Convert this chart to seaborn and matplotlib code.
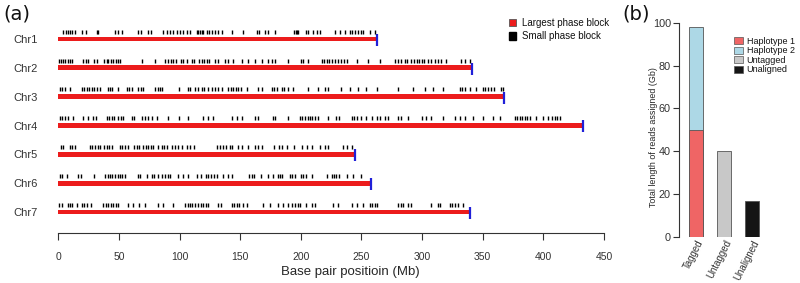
import numpy as np
import pandas as pd
import matplotlib
matplotlib.use("Agg")
import matplotlib.pyplot as plt
import seaborn as sns
from matplotlib.patches import Patch

# ---- data -------------------------------------------------------------
chromosomes = ["Chr1", "Chr2", "Chr3", "Chr4", "Chr5", "Chr6", "Chr7"]
largest_block_mb = [262.4, 341.5, 367.3, 432.7, 245.0, 257.5, 339.3]

small_blocks_mb = {
    "Chr1": [4.2, 6.1, 7.7, 9.4, 11.6, 13.8, 19.3, 22.6, 31.6, 33.0, 46.7, 49.5, 52.2,
             66.0, 68.2, 74.2, 76.4, 86.6, 89.3, 92.0, 94.8, 97.6, 100.3, 103.0, 105.8,
             108.5, 114.0, 115.5, 117.0, 118.5, 119.5, 122.3, 124.2, 126.4, 129.2, 131.9,
             134.6, 142.9, 152.5, 163.5, 165.4, 170.4, 173.1, 178.6, 194.5, 195.6, 196.7,
             197.8, 203.9, 206.1, 210.2, 213.0, 215.7, 228.0, 232.2, 236.3, 240.4, 242.3,
             244.5, 247.3, 249.5, 251.4, 256.9, 261.0],
    "Chr2": [0.6, 2.2, 4.2, 5.5, 7.7, 9.6, 11.6, 20.6, 22.6, 24.8, 29.7, 31.6, 37.9, 39.9,
             41.2, 43.4, 45.4, 47.3, 49.5, 51.1, 69.3, 79.7, 87.9, 90.1, 92.9, 94.8, 96.7,
             101.1, 103.0, 105.8, 109.9, 112.1, 116.0, 118.2, 120.1, 122.3, 124.2, 129.2,
             131.9, 137.4, 139.6, 144.3, 151.1, 156.1, 162.1, 167.6, 173.1, 175.9, 178.6,
             189.6, 200.0, 202.0, 206.1, 217.1, 219.3, 221.2, 223.1, 225.3, 228.0, 230.8,
             233.5, 235.7, 237.7, 245.9, 255.5, 265.1, 277.5, 280.2, 283.0, 285.7, 287.9,
             291.2, 293.4, 295.4, 297.3, 299.5, 301.7, 305.0, 307.7, 310.5, 313.2, 315.4,
             320.1, 332.4, 335.2, 339.3],
    "Chr3": [1.4, 3.3, 5.5, 9.6, 19.3, 21.5, 23.4, 25.3, 27.5, 29.7, 31.6, 34.4, 41.2, 42.6,
             44.0, 49.5, 56.3, 58.3, 60.5, 66.0, 68.2, 70.1, 79.7, 81.9, 83.8, 85.7, 99.5,
             106.6, 108.5, 112.7, 114.9, 118.2, 120.4, 123.7, 126.4, 129.2, 131.9, 134.6,
             140.1, 142.3, 144.3, 146.2, 148.4, 150.6, 155.2, 164.9, 167.6, 175.9, 178.1,
             180.0, 184.1, 186.3, 189.6, 193.7, 206.1, 214.3, 219.8, 222.0, 233.5, 240.4,
             247.3, 254.1, 262.4, 280.2, 292.6, 302.2, 309.1, 317.3, 331.1, 333.0, 335.2,
             339.3, 344.8, 350.3, 352.2, 354.4, 357.2, 359.4, 365.4, 366.8],
    "Chr4": [1.4, 3.3, 5.5, 7.7, 12.4, 20.6, 24.8, 28.9, 30.8, 39.9, 41.8, 44.0, 46.2, 49.5,
             51.7, 53.6, 60.5, 62.7, 69.3, 71.5, 73.7, 77.5, 81.1, 90.7, 99.5, 107.2, 119.5,
             123.7, 127.8, 142.9, 147.0, 151.1, 162.1, 164.3, 177.2, 178.6, 189.6, 199.2,
             201.1, 203.3, 205.5, 207.4, 209.4, 211.6, 214.3, 222.0, 229.4, 231.3, 242.3,
             244.0, 245.9, 250.0, 254.1, 258.3, 262.4, 265.1, 269.3, 272.0, 280.2, 282.4,
             288.5, 299.5, 303.6, 307.7, 317.3, 327.0, 331.1, 335.2, 342.1, 350.3, 358.6,
             364.0, 376.4, 378.6, 380.5, 382.4, 384.6, 386.8, 388.8, 394.3, 399.7, 403.9,
             407.2, 409.4, 411.6, 413.5],
    "Chr5": [2.2, 4.2, 9.6, 11.6, 13.8, 26.1, 28.0, 30.3, 32.4, 34.4, 37.9, 39.9, 41.8, 44.0,
             50.9, 52.8, 55.0, 57.2, 62.7, 64.6, 66.5, 70.1, 72.0, 74.2, 76.4, 78.3, 81.9,
             85.2, 87.4, 89.3, 94.0, 96.2, 98.4, 101.7, 105.8, 108.5, 112.1, 130.5, 133.3,
             136.0, 137.9, 141.5, 143.4, 147.8, 151.7, 156.6, 162.1, 164.3, 168.2, 178.1,
             181.9, 184.1, 188.2, 194.5, 200.6, 204.7, 208.8, 215.7, 219.8, 222.6, 234.9,
             237.7, 241.8],
    "Chr6": [1.4, 3.3, 6.9, 16.5, 18.7, 29.7, 38.5, 40.7, 42.6, 44.5, 46.7, 48.9, 50.9, 52.8,
             55.0, 65.4, 67.3, 72.8, 77.0, 79.1, 82.4, 85.7, 87.9, 90.1, 92.1, 98.9, 103.0,
             107.2, 114.0, 117.6, 121.5, 123.7, 125.9, 128.6, 130.5, 136.0, 140.1, 142.9,
             157.2, 159.4, 161.6, 167.1, 172.6, 177.2, 180.8, 182.7, 184.6, 191.0, 192.9,
             195.1, 200.0, 202.0, 203.9, 208.8, 221.2, 225.3, 227.5, 229.4, 231.3, 237.7,
             243.2, 249.5],
    "Chr7": [0.6, 3.3, 7.7, 9.6, 11.6, 15.1, 19.3, 21.5, 23.4, 27.0, 37.1, 39.1, 41.2, 43.4,
             45.4, 47.3, 49.5, 57.7, 61.8, 66.5, 71.5, 82.4, 86.6, 94.8, 104.4, 106.6, 108.5,
             110.5, 112.7, 114.9, 117.6, 119.5, 121.5, 123.7, 131.3, 134.1, 142.9, 145.1,
             147.0, 148.9, 152.5, 155.2, 169.0, 174.5, 180.8, 185.5, 189.6, 192.9, 195.1,
             197.3, 199.2, 203.9, 208.8, 211.6, 226.7, 230.8, 241.8, 245.9, 251.4, 256.9,
             258.8, 261.0, 263.2, 280.2, 282.4, 284.4, 288.5, 291.2, 307.7, 313.2, 314.6,
             322.8, 324.8, 327.0, 329.2, 333.8],
}

read_groups = ["Tagged", "Untagged", "Unaligned"]
haplotype1_gb = 50
haplotype2_gb = 48
untagged_gb = 40
unaligned_gb = 17

# ---- style -------------------------------------------------------------
sns.set_theme(style="white")
plt.rcParams.update({
    "font.family": ["Liberation Sans", "DejaVu Sans"],
    "axes.edgecolor": "#333333",
    "axes.linewidth": 0.8,
    "xtick.color": "#333333",
    "ytick.color": "#333333",
    "text.color": "#111111",
})

RED = "#ec1c1c"
BLUE = "#2020d8"
HAP1 = "#ef6565"
HAP2 = "#add8e6"
GREY = "#c8c8c8"
BLACK = "#151515"

fig = plt.figure(figsize=(8.0, 2.83), dpi=100)

# ---- panel (a) ---------------------------------------------------------
ax = fig.add_axes([0.0729, 0.2152, 0.6821, 0.7386])

sns.barplot(x=largest_block_mb, y=chromosomes, orient="h", color=RED,
            width=0.165, linewidth=0, saturation=1, ax=ax)

ends = pd.DataFrame({"pos": largest_block_mb, "row": np.arange(len(chromosomes)) + 0.03})
sns.scatterplot(data=ends, x="pos", y="row", marker="|", color=BLUE, s=70,
                linewidth=1.6, ax=ax, legend=False)

rows = []
for i, ch in enumerate(chromosomes):
    for p in small_blocks_mb[ch]:
        rows.append({"pos": p, "row": i - 0.25})
small = pd.DataFrame(rows)
sns.scatterplot(data=small, x="pos", y="row", marker="|", color="black", s=10,
                linewidth=1.0, ax=ax, legend=False)

ax.set_xlim(0, 450)
ax.set_ylim(6.35, -0.9)
ax.set_xticks(np.arange(0, 451, 50))
ax.tick_params(axis="x", labelsize=7.5, length=5, width=0.8, direction="out",
               bottom=True, pad=9)
ax.tick_params(axis="y", labelsize=8, length=0, pad=15)
for s in ["top", "right", "left"]:
    ax.spines[s].set_visible(False)
ax.spines["bottom"].set_position(("outward", 7.7))
ax.spines["bottom"].set_bounds(0, 450)
ax.set_ylabel("")
ax.set_xlabel("Base pair positioin (Mb)", fontsize=9.5, va="center")
ax.xaxis.set_label_coords((350 - 58.3) / 545.7, -(271.7 - 222.1) / 209)

fig.legend(handles=[Patch(facecolor=RED, edgecolor="#555555", linewidth=0.6),
                    Patch(facecolor="black", edgecolor="black")],
           labels=["Largest phase block", "Small phase block"],
           loc="upper left", bbox_to_anchor=(509 / 800, 1 - 18 / 283),
           frameon=False, fontsize=7, handlelength=0.75, handleheight=0.75,
           handletextpad=0.6, labelspacing=0.35, borderpad=0, borderaxespad=0)

fig.text(3 / 800, 1 - 14 / 283, "(a)", fontsize=14, family="DejaVu Sans", va="center")

# ---- panel (b) ---------------------------------------------------------
bx = fig.add_axes([679.3 / 800, 1 - 237 / 283, 89.8 / 800, 220.7 / 283])

totals = [haplotype1_gb + haplotype2_gb, untagged_gb, unaligned_gb]
sns.barplot(x=read_groups, y=totals, hue=read_groups, order=read_groups,
            palette=[HAP2, GREY, BLACK], width=0.5, saturation=1,
            edgecolor="#555555", linewidth=0.6, legend=False, ax=bx)
sns.barplot(x=read_groups[:1], y=[haplotype1_gb], order=read_groups, color=HAP1,
            width=0.5, saturation=1, edgecolor="#555555", linewidth=0.6, ax=bx)

bx.set_xlim(-0.607, 2.6)
bx.set_ylim(0, 103)
bx.set_yticks(np.arange(0, 101, 20))
bx.tick_params(axis="y", labelsize=7.8, length=4, width=0.8, left=True, pad=2)
bx.tick_params(axis="x", labelsize=7, length=0, pad=1)
for lbl in bx.get_xticklabels():
    lbl.set_rotation(63)
    lbl.set_ha("right")
    lbl.set_rotation_mode("anchor")
for s in ["top", "right", "bottom"]:
    bx.spines[s].set_visible(False)
bx.spines["left"].set_bounds(0, 100)
bx.set_ylabel("Total length of reads assigned (Gb)", fontsize=6.4, va="center")
bx.yaxis.set_label_coords((653 - 679.3) / 89.8, (237 - 137) / 220.7)
bx.set_xlabel("")

bx.legend(handles=[Patch(facecolor=c, edgecolor="#555555", linewidth=0.5)
                   for c in [HAP1, HAP2, GREY, BLACK]],
          labels=["Haplotype 1", "Haplotype 2", "Untagged", "Unaligned"],
          loc="upper left", bbox_to_anchor=(734 / 800, 1 - 37 / 283),
          bbox_transform=fig.transFigure, frameon=False, fontsize=6.5,
          handlelength=1.0, handleheight=0.8, handletextpad=0.4,
          labelspacing=0.05, borderpad=0, borderaxespad=0)

fig.text(622 / 800, 1 - 14 / 283, "(b)", fontsize=14, family="DejaVu Sans", va="center")

fig.savefig("out.png", dpi=100)
